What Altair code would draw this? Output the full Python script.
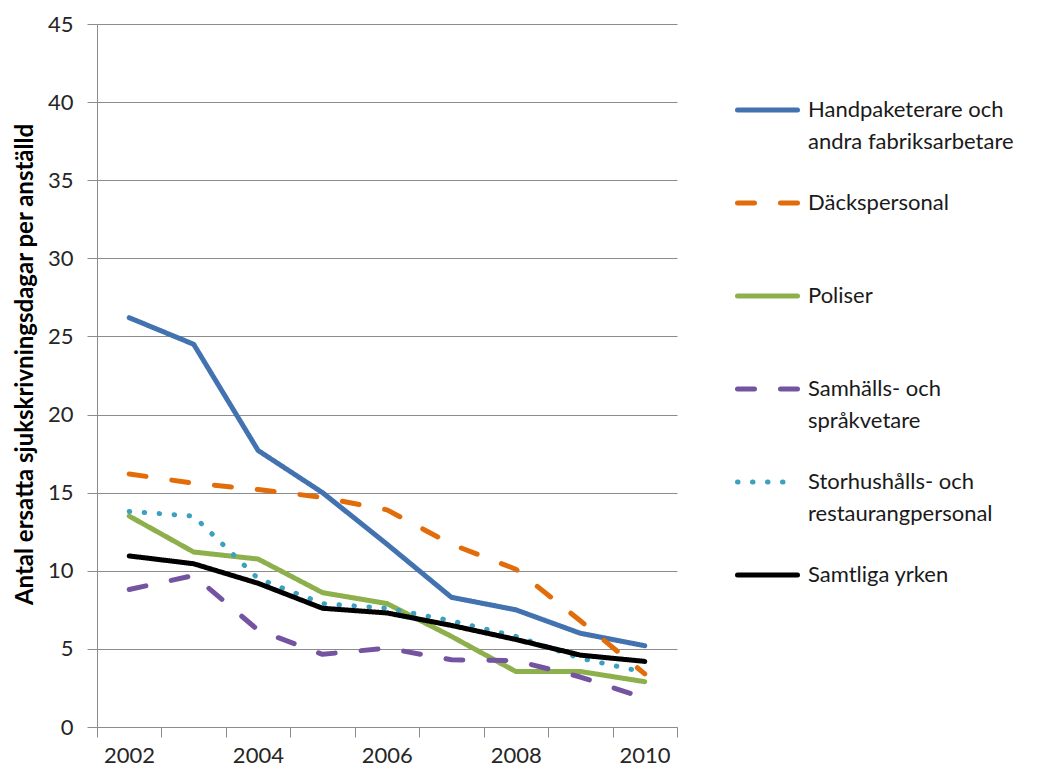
import altair as alt
import pandas as pd

years = [2002, 2003, 2004, 2005, 2006, 2007, 2008, 2009, 2010]

names = [
    "Handpaketerare och andra fabriksarbetare",
    "Däckspersonal",
    "Poliser",
    "Samhälls- och språkvetare",
    "Storhushålls- och restaurangpersonal",
    "Samtliga yrken",
]
line1 = ["Handpaketerare och", "Däckspersonal", "Poliser", "Samhälls- och", "Storhushålls- och", "Samtliga yrken"]
line2 = ["andra fabriksarbetare", "", "", "språkvetare", "restaurangpersonal", ""]

handpaket = [26.2, 24.5, 17.7, 15.0, 11.7, 8.3, 7.5, 6.0, 5.2]
dack = [16.2, 15.6, 15.2, 14.7, 13.9, 11.7, 10.1, 6.8, 3.4]
poliser = [13.5, 11.2, 10.75, 8.6, 7.9, 5.8, 3.55, 3.55, 2.9]
samhalls = [8.8, 9.7, 6.2, 4.65, 5.05, 4.3, 4.25, 3.2, 1.85]
storhush = [13.8, 13.5, 9.5, 7.9, 7.6, 6.8, 5.8, 4.4, 3.5]
samtliga = [10.95, 10.45, 9.2, 7.6, 7.3, 6.5, 5.6, 4.6, 4.2]

series = [handpaket, dack, poliser, samhalls, storhush, samtliga]

colors = ["#4372B0", "#E36C0A", "#8DB04C", "#7453A0", "#3CA0BE", "#000000"]
dashes = [[1, 0], [17, 26], [1, 0], [17, 26], [0.5, 14.5], [1, 0]]
widths = [5, 5, 5, 5, 6, 6]

rows = []
for n, vals in zip(names, series):
    for yr, v in zip(years, vals):
        rows.append({"name": n, "year": yr, "value": v})
df = pd.DataFrame(rows)

leg_df = pd.DataFrame({"name": names, "line1": line1, "line2": line2})

FONT = "Lato"
GRID = "#8c8c8c"

color_enc = alt.Color("name:N", sort=names, scale=alt.Scale(domain=names, range=colors), legend=None)
dash_enc = alt.StrokeDash("name:N", sort=names, scale=alt.Scale(domain=names, range=dashes), legend=None)
width_enc = alt.StrokeWidth("name:N", sort=names, scale=alt.Scale(domain=names, range=widths), legend=None)

tick_vals = [y - 0.5 for y in years] + [years[-1] + 0.5]

main = (
    alt.Chart(df)
    .mark_line(strokeCap="round", strokeJoin="round")
    .encode(
        x=alt.X(
            "year:Q",
            scale=alt.Scale(domain=[years[0] - 0.5, years[-1] + 0.5], nice=False, zero=False),
            axis=alt.Axis(
                values=tick_vals,
                labelExpr="(datum.value - 1.5) % 2 == 0 ? toString(datum.value + 0.5) : ''",
                labelOffset=32,
                labelFlush=False,
                labelOverlap=False,
                grid=False,
                tickSize=10,
                labelPadding=8,
                title=None,
            ),
        ),
        y=alt.Y(
            "value:Q",
            scale=alt.Scale(domain=[0, 45], nice=False),
            axis=alt.Axis(
                values=list(range(0, 50, 5)),
                grid=True,
                tickSize=10,
                labelPadding=14,
                title="Antal ersatta sjukskrivningsdagar  per anställd",
                titleFontWeight="bold",
                titleFontSize=24,
                titleFont=FONT,
                titleColor="#000000",
                titlePadding=10,
                titleY=340,
            ),
        ),
        color=color_enc,
        strokeDash=dash_enc,
        strokeWidth=width_enc,
        order=alt.Order("name:N", sort="ascending"),
    )
    .properties(width=580, height=703)
)

leg_base = alt.Chart(leg_df).encode(
    y=alt.Y("name:N", sort=names, scale=alt.Scale(type="point", padding=0.925), axis=None)
)
leg_rule = leg_base.mark_rule(strokeCap="round").encode(
    x=alt.value(2.5), x2=alt.value(62.5), color=color_enc, strokeDash=dash_enc,
    strokeWidth=alt.value(5),
)
leg_t1 = leg_base.mark_text(align="left", baseline="middle", font=FONT, fontSize=22, color="#1a1a1a").encode(
    x=alt.value(73), text="line1:N"
)
leg_t2 = leg_base.mark_text(align="left", baseline="middle", font=FONT, fontSize=22, color="#1a1a1a", dy=32).encode(
    x=alt.value(73), text="line2:N"
)
legend = alt.layer(leg_rule, leg_t1, leg_t2).properties(width=230, height=637)

chart = (
    alt.hconcat(main, legend, spacing=58, bounds="flush")
    .configure_view(stroke=None)
    .configure_axis(
        domainColor=GRID,
        tickColor=GRID,
        gridColor=GRID,
        domainWidth=1,
        tickWidth=1,
        gridWidth=1,
        labelFont=FONT,
        labelFontSize=22,
        labelColor="#262626",
    )
)

chart.save("out.html", embed_options={"renderer": "svg", "actions": False})
